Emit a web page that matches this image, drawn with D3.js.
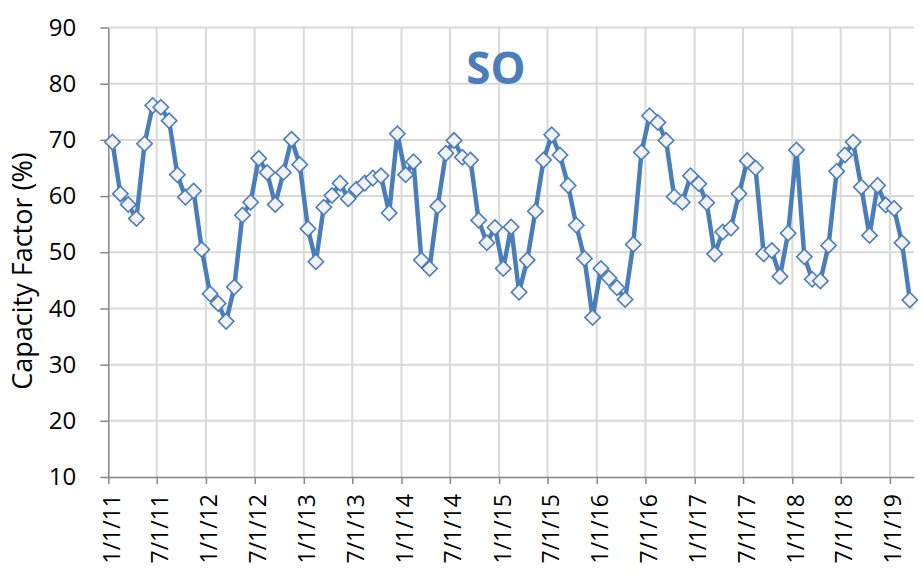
<!DOCTYPE html>
<html>
<head>
<meta charset="utf-8">
<script src="https://cdn.jsdelivr.net/npm/d3@7"></script>
<style>
  body { margin: 0; background: #fff; }
  svg { display: block; font-family: "Open Sans", sans-serif; }
</style>
</head>
<body>
<svg id="chart" width="923" height="577"></svg>
<script>
// monthly capacity factor (%), Jan 2011 .. Mar 2019
const firstMonth = new Date(2011, 0, 1);
const endMonth = new Date(2019, 3, 1);
const capacityFactor = [
  69.6, 60.4, 58.5, 56.0, 69.3, 76.1, 75.8, 73.4, 63.8, 59.8, 60.9, 50.5,
  42.6, 40.9, 37.7, 43.8, 56.6, 58.9, 66.7, 64.2, 58.5, 64.2, 70.1, 65.6,
  54.2, 48.3, 58.0, 60.1, 62.3, 59.5, 61.2, 62.3, 63.2, 63.6, 57.0, 71.1,
  63.8, 66.1, 48.6, 47.1, 58.2, 67.6, 69.9, 66.9, 66.4, 55.7, 51.7, 54.4,
  47.1, 54.5, 42.9, 48.6, 57.3, 66.4, 70.9, 67.3, 61.9, 54.8, 48.9, 38.4,
  47.1, 45.4, 43.7, 41.6, 51.4, 67.8, 74.3, 73.1, 69.9, 59.9, 58.9, 63.6,
  62.2, 58.8, 49.7, 53.6, 54.3, 60.4, 66.3, 65.0, 49.7, 50.3, 45.7, 53.4,
  68.2, 49.2, 45.2, 44.9, 51.2, 64.4, 67.3, 69.6, 61.6, 53.0, 61.9, 58.4,
  57.8, 51.7, 41.5
];
const yTicks = [10, 20, 30, 40, 50, 60, 70, 80, 90];
const title = 'SO';
const yTitle = 'Capacity Factor (%)';

const blue = '#4a7ebb';
const gridColor = '#d9d9d9';
const axisColor = '#868686';

const svg = d3.select('#chart');
const margin = {left: 108.3, right: 9, top: 27.5, bottom: 100};
const width = +svg.attr('width'), height = +svg.attr('height');

const months = d3.timeMonth.range(firstMonth, endMonth);
const data = months.map((m, i) => ({
  // points sit in the middle of their month (Excel "between tick marks")
  date: new Date((+m + +d3.timeMonth.offset(m, 1)) / 2),
  value: capacityFactor[i]
}));

const x = d3.scaleTime()
  .domain([firstMonth, endMonth])
  .range([margin.left, width - margin.right]);
const y = d3.scaleLinear()
  .domain([10, 90])
  .range([height - margin.bottom, margin.top]);

const xTicks = d3.timeMonth.every(6).range(firstMonth, endMonth);
const fmt = d3.timeFormat('%-m/%-d/%y');

// gridlines
svg.append('g')
  .selectAll('line')
  .data(yTicks.slice(1))
  .join('line')
    .attr('x1', x.range()[0]).attr('x2', x.range()[1])
    .attr('y1', d => y(d)).attr('y2', d => y(d))
    .attr('stroke', gridColor).attr('stroke-width', 2);

svg.append('g')
  .selectAll('line')
  .data(xTicks.slice(1))
  .join('line')
    .attr('x1', d => x(d)).attr('x2', d => x(d))
    .attr('y1', y.range()[0]).attr('y2', y.range()[1])
    .attr('stroke', gridColor).attr('stroke-width', 2);

// x axis
const xAxis = svg.append('g')
  .attr('transform', `translate(0,${y(10)})`)
  .call(d3.axisBottom(x).tickValues(xTicks).tickSize(7).tickSizeOuter(0).tickFormat(''));
xAxis.select('.domain').attr('stroke', axisColor).attr('stroke-width', 1.5);
xAxis.selectAll('.tick line').attr('stroke', axisColor).attr('stroke-width', 1.5);

svg.append('g')
  .selectAll('text')
  .data(xTicks)
  .join('text')
    .attr('transform', d => `translate(${x(d)},${y(10) + 17}) rotate(-90)`)
    .attr('text-anchor', 'end')
    .attr('dy', '0.5em')
    .attr('font-size', 23)
    .attr('fill', '#000')
    .text(d => fmt(d));

// y axis
const yAxis = svg.append('g')
  .attr('transform', `translate(${x.range()[0]},0)`)
  .call(d3.axisLeft(y).tickValues(yTicks).tickSize(8).tickSizeOuter(0).tickPadding(24));
yAxis.select('.domain').attr('stroke', axisColor).attr('stroke-width', 1.5);
yAxis.selectAll('.tick line').attr('stroke', axisColor).attr('stroke-width', 1.5);
yAxis.selectAll('.tick text')
  .attr('font-size', 24)
  .attr('font-family', '"Open Sans", sans-serif')
  .attr('fill', '#000');

svg.append('text')
  .attr('transform', 'translate(32,271) rotate(-90)')
  .attr('text-anchor', 'middle')
  .attr('font-size', 27)
  .attr('fill', '#000')
  .text(yTitle);

// title inside plot
svg.append('text')
  .attr('x', 496).attr('y', 84)
  .attr('text-anchor', 'middle')
  .attr('font-size', 44)
  .attr('font-weight', 'bold')
  .attr('fill', blue)
  .text(title);

// series
const line = d3.line()
  .x(d => x(d.date))
  .y(d => y(d.value));

svg.append('path')
  .datum(data)
  .attr('fill', 'none')
  .attr('stroke', blue)
  .attr('stroke-width', 4.5)
  .attr('stroke-linejoin', 'round')
  .attr('d', line);

svg.append('g')
  .selectAll('path')
  .data(data)
  .join('path')
    .attr('transform', d => `translate(${x(d.date)},${y(d.value)}) rotate(45)`)
    .attr('d', d3.symbol(d3.symbolSquare, 118))
    .attr('fill', '#f2f2f2')
    .attr('stroke', blue)
    .attr('stroke-width', 1.6);
</script>
</body>
</html>
